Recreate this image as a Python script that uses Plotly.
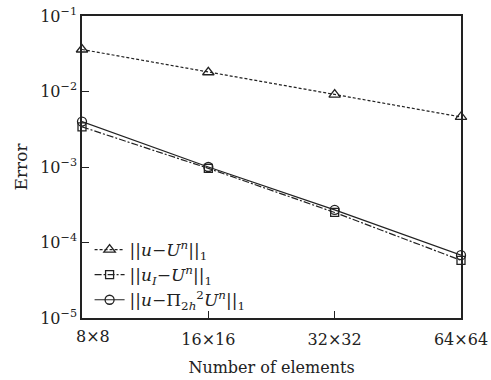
import math
import plotly.graph_objects as go

grid_n = [8, 16, 32, 64]
grid_labels = ["", "16×16", "32×32", "64×64"]
first_label = "8×8"
err_u_Un = [0.036, 0.018, 0.0091, 0.0046]
err_uI_Un = [0.0034, 0.00096, 0.00025, 0.000058]
err_u_Pi = [0.0040, 0.00100, 0.00027, 0.000068]
y_ticks = [1e-5, 1e-4, 1e-3, 1e-2, 1e-1]
y_tick_labels = ["10<sup>−5</sup>", "10<sup>−4</sup>", "10<sup>−3</sup>", "10<sup>−2</sup>", "10<sup>−1</sup>"]

FONT = "DejaVu Serif"
C = "#222"
N = "||"
fig = go.Figure()
fig.add_trace(go.Scatter(
    x=grid_n, y=err_u_Un, mode="lines+markers",
    name=N + "<i>u</i>−<i>U</i><sup><i>n</i></sup>" + N + "<sub>1</sub>",
    line=dict(color=C, width=1.2, dash="3px,2px"),
    marker=dict(symbol="triangle-up-open", size=10, color=C, line=dict(width=1.3)),
    cliponaxis=False))
fig.add_trace(go.Scatter(
    x=grid_n, y=err_uI_Un, mode="lines+markers",
    name=N + "<i>u<sub>I</sub></i>−<i>U</i><sup><i>n</i></sup>" + N + "<sub>1</sub>",
    line=dict(color=C, width=1.2, dash="7px,2px,2px,2px"),
    marker=dict(symbol="square-open", size=8, color=C, line=dict(width=1.3)),
    cliponaxis=False))
fig.add_trace(go.Scatter(
    x=grid_n, y=err_u_Pi, mode="lines+markers",
    name=N + "<i>u</i>−Π<sub>2<i>h</i></sub><sup>2</sup><i>U</i><sup><i>n</i></sup>" + N + "<sub>1</sub>",
    line=dict(color=C, width=1.2),
    marker=dict(symbol="circle-open", size=9, color=C, line=dict(width=1.3)),
    cliponaxis=False))

axis_common = dict(showline=True, linecolor=C, linewidth=1.5, mirror=True, automargin=False,
                   ticks="inside", ticklen=7, tickcolor=C, showgrid=False, zeroline=False,
                   tickfont=dict(family=FONT, size=16, color=C))
eps = 1e-7
fig.update_layout(
    width=491, height=380,
    margin=dict(l=82, r=30, t=16, b=62),
    plot_bgcolor="white", paper_bgcolor="white",
    font=dict(family=FONT, size=16, color=C),
    xaxis=dict(type="log", range=[math.log10(8) - eps, math.log10(64) + eps],
               tickvals=grid_n, ticktext=grid_labels, ticklabelstandoff=6,
               title=dict(text="Number of elements", font=dict(family=FONT, size=16), standoff=14),
               **axis_common),
    yaxis=dict(type="log", range=[-5, -1], tickvals=y_ticks, ticktext=y_tick_labels,
               title=dict(text="Error", font=dict(family=FONT, size=17), standoff=8),
               **axis_common),
    legend=dict(x=0.02, y=0.0, xanchor="left", yanchor="bottom", bgcolor="rgba(0,0,0,0)",
                font=dict(family=FONT, size=17, color=C), tracegroupgap=0, itemwidth=30),
    showlegend=True,
)
fig.add_annotation(x=math.log10(grid_n[0]), y=0, xref="x", yref="paper", yanchor="top",
                   text=first_label, showarrow=False, xshift=11, yshift=-7,
                   font=dict(family=FONT, size=16, color=C))
fig.write_html("out.html")
